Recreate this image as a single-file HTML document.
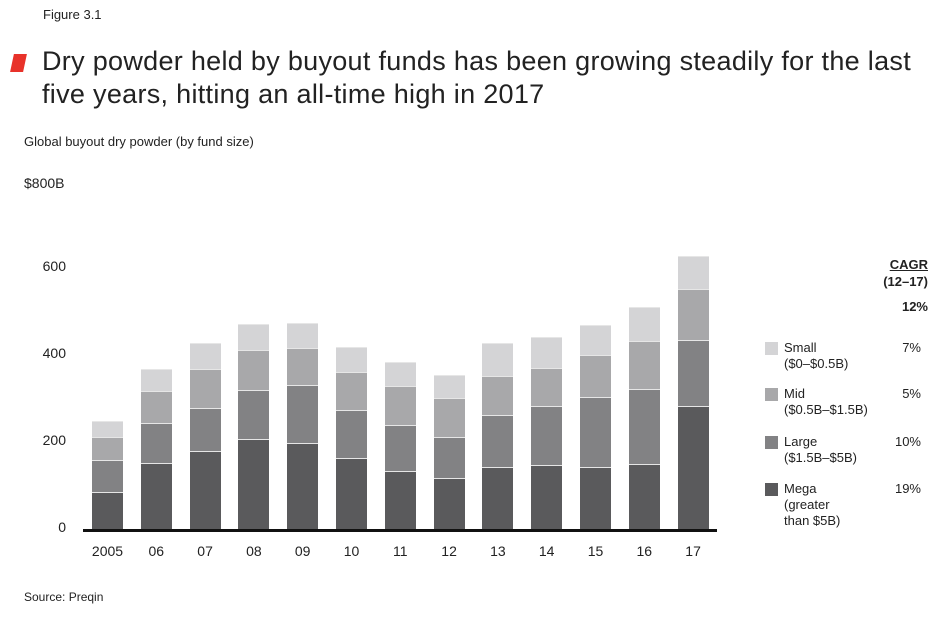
<!DOCTYPE html><html><head><style>
body{margin:0;width:950px;height:634px;background:#fff;font-family:"Liberation Sans",sans-serif;color:#222;position:relative;overflow:hidden}
div{position:absolute}
.s{border-top:1px solid #e6e6e6;box-sizing:border-box}
.t{font-size:13px;color:#222}
.yl{font-size:14px;right:884px;width:60px;text-align:right}
.xl{font-size:14px;width:50px;text-align:center;top:543px}
.lg{font-size:13px;line-height:16px;left:784px}
.pc{font-size:13px;right:29px;text-align:right}
.sw{left:765px;width:13px;height:13px}
</style></head><body>
<div style="left:43px;top:7px;font-size:13px">Figure 3.1</div>
<div style="left:12px;top:54px;width:13px;height:18px;background:#e8322a;transform:skewX(-12deg)"></div>
<div style="left:42px;top:45px;font-size:27px;line-height:33px;color:#222;width:875px;letter-spacing:0.3px">Dry powder held by buyout funds has been growing steadily for the last five years, hitting an all-time high in 2017</div>
<div class="t" style="left:24px;top:134px">Global buyout dry powder (by fund size)</div>
<div class="t" style="left:24px;top:175px;font-size:14px">$800B</div>
<div class="yl" style="top:258px">600</div>
<div class="yl" style="top:345px">400</div>
<div class="yl" style="top:432px">200</div>
<div class="yl" style="top:519px">0</div>
<div style="left:83px;top:529px;width:634px;height:3px;background:#111"></div>
<div id="bars"></div>
<div style="right:22px;top:256px;font-size:13px;font-weight:bold;text-align:right;line-height:17px"><u>CAGR</u><br>(12–17)</div>
<div style="right:22px;top:299px;font-size:13px;font-weight:bold">12%</div>
<div class="sw" style="top:342px;background:#d4d4d6"></div>
<div class="lg" style="top:340px">Small<br>($0–$0.5B)</div><div class="pc" style="top:340px">7%</div>
<div class="sw" style="top:388px;background:#a8a8aa"></div>
<div class="lg" style="top:386px">Mid<br>($0.5B–$1.5B)</div><div class="pc" style="top:386px">5%</div>
<div class="sw" style="top:436px;background:#828284"></div>
<div class="lg" style="top:434px">Large<br>($1.5B–$5B)</div><div class="pc" style="top:434px">10%</div>
<div class="sw" style="top:483px;background:#5a5a5c"></div>
<div class="lg" style="top:481px">Mega<br>(greater<br>than $5B)</div><div class="pc" style="top:481px">19%</div>
<div style="left:24px;top:590px;font-size:12px">Source: Preqin</div>
<script>
var d=[[492,460,437,421],[463,423,391,369],[451,408,369,343],[439,390,350,324],[443,385,348,323],[458,410,372,347],[471,425,386,362],[478,437,398,375],[467,415,376,343],[465,406,368,337],[467,397,355,325],[464,389,341,307],[406,340,289,256]];
var c=["#5a5a5c","#828284","#a8a8aa","#d4d4d6"],lab=["2005","06","07","08","09","10","11","12","13","14","15","16","17"];
var h="";d.forEach(function(b,i){var x=92+48.8*i,bot=529;for(var k=0;k<4;k++){h+='<div class="s" style="left:'+x+'px;top:'+b[k]+'px;width:31px;height:'+(bot-b[k])+'px;background:'+c[k]+'"></div>';bot=b[k];}
h+='<div class="xl" style="left:'+(x-9.5)+'px">'+lab[i]+'</div>';});
document.getElementById("bars").outerHTML=h;
</script>
</body></html>
